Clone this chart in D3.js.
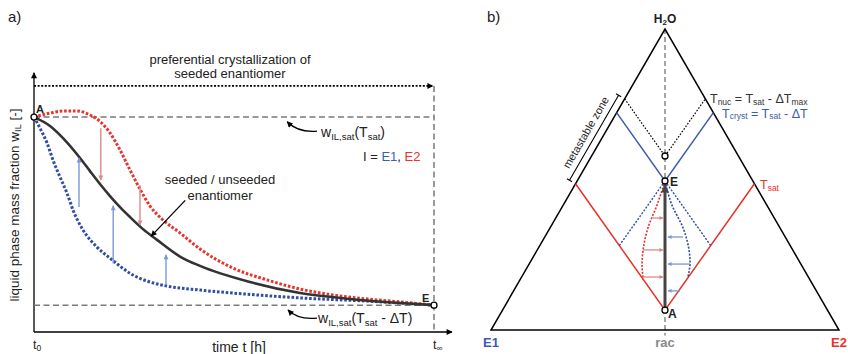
<!DOCTYPE html>
<html><head><meta charset="utf-8">
<script src="https://cdn.jsdelivr.net/npm/d3@7"></script>
<style>body{margin:0;background:#fff} svg{font-family:"Liberation Sans",Arial,sans-serif}</style>
</head><body><svg id="c" width="848" height="354"></svg>
<script>
// ---------- Panel a data (time t 0..10 = t0..t∞, w = liquid phase mass fraction) ----------
const timeTicks = [0, 10];
const timeTickLabels = [["t", "0"], ["t", "∞"]];
const wSat = 0.80;       // w_IL,sat(T_sat)
const wSatLow = 0.10;    // w_IL,sat(T_sat - ΔT)
const blackCurve = [[0,0.800],[0.40,0.767],[0.725,0.722],[1.15,0.648],[1.40,0.599],[1.65,0.551],[1.90,0.506],[2.15,0.465],[2.40,0.428],[2.725,0.383],[3.075,0.343],[3.65,0.281],[4.15,0.246],[5.40,0.186],[6.65,0.145],[7.90,0.123],[9.15,0.108],[10,0.100]];
const redCurve = [[0,0.800],[0.40,0.815],[0.725,0.823],[1.075,0.823],[1.40,0.808],[1.65,0.784],[1.90,0.741],[2.15,0.678],[2.40,0.603],[2.65,0.532],[2.90,0.469],[3.225,0.417],[3.65,0.369],[4.15,0.309],[4.975,0.238],[5.825,0.194],[6.65,0.160],[7.475,0.138],[8.325,0.123],[9.15,0.112],[10,0.100]];
const blueCurve = [[0,0.800],[0.15,0.759],[0.325,0.704],[0.475,0.640],[0.65,0.577],[0.825,0.517],[0.975,0.454],[1.225,0.380],[1.575,0.316],[1.90,0.275],[2.475,0.212],[2.90,0.186],[3.325,0.171],[4.15,0.156],[4.975,0.145],[6.65,0.127],[8.325,0.115],[10,0.100]];
const redArrowsA = [[1.67,0.759,0.566],[2.65,0.547,0.398]];
const blueArrowsA = [[1.125,0.465,0.648],[1.98,0.255,0.470],[3.3,0.175,0.288]];

// ---------- Panel b data (ternary: x = E1→E2 position, h = H2O height) ----------
const triangle = [[0,0],[1,0],[0.5,1]];
const pointA = [0.5, 0.066], pointE = [0.5, 0.495], pointNuc = [0.5, 0.578];
const tSatLine = [[0.243,0.486],[0.5,0.066],[0.757,0.486]];
const tCrystLine = [[0.361,0.722],[0.5,0.495],[0.639,0.722]];
const tNucLine = [[0.384,0.768],[0.5,0.578],[0.616,0.768]];
const crystBelow = [[[0.5,0.495],[0.369,0.281]], [[0.5,0.495],[0.631,0.281]]];
const redPathB = [[0.5,0.495],[0.477,0.415],[0.451,0.339],[0.437,0.266],[0.434,0.216],[0.438,0.166]];
const bluePathB = [[0.5,0.495],[0.520,0.415],[0.552,0.339],[0.569,0.266],[0.572,0.226],[0.566,0.176]];
const redArrowsB = [[0.372,0.4655,0.4943],[0.266,0.4368,0.4943],[0.176,0.4368,0.4943]];
const blueArrowsB = [[0.309,0.5517,0.5086],[0.219,0.5718,0.5086],[0.130,0.5431,0.5086]];
const metaZone = [[0.384,0.768],[0.243,0.486]];

const C = {red:"#e8322b", blue:"#2f4ea0", blueL:"#3d5cae", lred:"#d98a8c", lblue:"#7b98d8", gray:"#7a7a7a", dark:"#333"};

const svg = d3.select("#c");
const defs = svg.append("defs");
function marker(id, color, w, h) {
  defs.append("marker").attr("id", id).attr("viewBox","0 0 10 10").attr("refX",9).attr("refY",5)
    .attr("markerWidth",w).attr("markerHeight",h).attr("markerUnits","userSpaceOnUse").attr("orient","auto")
    .append("path").attr("d","M0,0L10,5L0,10z").attr("fill",color);
}
marker("mAx","#000",8,6); marker("mBlk","#000",7,6); marker("mR",C.lred,7,5); marker("mB",C.lblue,7,5);
marker("mRs",C.lred,5,4); marker("mBs",C.lblue,5,4);
marker("mThick","#444",13,8);

function rich(g, x, y, parts, o) {
  const t = g.append("text").attr("x",x).attr("y",y).attr("font-size",o.size).attr("fill",o.fill||"#222")
    .attr("text-anchor",o.anchor||"start").attr("font-weight",o.weight||"normal");
  let shifted = 0; const s = o.shift == null ? 0.18 : o.shift;
  parts.forEach(p => {
    const ts = t.append("tspan").text(p[0]);
    if (p[1] === "sub") { ts.attr("font-size", o.size*0.68).attr("dy", (o.size*s) - shifted); shifted = o.size*s; }
    else { ts.attr("dy", -shifted); shifted = 0; }
  });
  return t;
}

// ================= Panel a =================
const ga = svg.append("g");
const x = d3.scaleLinear().domain([0,10]).range([34,434]);
const y = d3.scaleLinear().domain([0,1]).range([332,63.4]);

ga.append("text").attr("x",8).attr("y",22).attr("font-size",15).attr("fill","#222").text("a)");

// axes
ga.append("line").attr("x1",x(0)).attr("x2",x(0)).attr("y1",y(0)).attr("y2",y(0.965)).attr("stroke","#000").attr("stroke-width",1.3).attr("marker-end","url(#mAx)");
ga.append("line").attr("x1",x(0)).attr("x2",x(10.45)).attr("y1",y(0)).attr("y2",y(0)).attr("stroke","#000").attr("stroke-width",1.3).attr("marker-end","url(#mAx)");
const xAxis = ga.append("g").attr("transform",`translate(0,${y(0)})`)
  .call(d3.axisBottom(x).tickValues(timeTicks).tickSize(0).tickPadding(0).tickFormat(()=>""));
xAxis.select(".domain").remove();
xAxis.selectAll(".tick text").each(function(d,i){
  const t = d3.select(this).attr("font-size",12.5).attr("fill","#222").attr("font-family","Liberation Sans, Arial, sans-serif")
    .attr("text-anchor","start").attr("x",-1.5).attr("y",17).attr("dy",null);
  t.append("tspan").text(timeTickLabels[i][0]);
  t.append("tspan").text(timeTickLabels[i][1]).attr("font-size",8.5).attr("dy",1.5);
});

// reference lines
ga.append("line").attr("x1",x(0)).attr("x2",x(10)).attr("y1",y(wSat)).attr("y2",y(wSat)).attr("stroke",C.gray).attr("stroke-width",1.5).attr("stroke-dasharray","6,3.5");
ga.append("line").attr("x1",x(0)).attr("x2",x(10)).attr("y1",y(wSatLow)).attr("y2",y(wSatLow)).attr("stroke",C.gray).attr("stroke-width",1.5).attr("stroke-dasharray","6,3.5");
ga.append("line").attr("x1",x(10)).attr("x2",x(10)).attr("y1",y(0.916)).attr("y2",y(0)).attr("stroke",C.gray).attr("stroke-width",1.5).attr("stroke-dasharray","6,3.5");
ga.append("line").attr("x1",x(0)).attr("x2",x(9.97)).attr("y1",y(0.916)).attr("y2",y(0.916)).attr("stroke","#000").attr("stroke-width",1.8).attr("stroke-dasharray","2,1.6").attr("marker-end","url(#mBlk)");

// curves
const la = d3.line().x(d=>x(d[0])).y(d=>y(d[1])).curve(d3.curveMonotoneX);
ga.append("path").attr("d",la(blueCurve)).attr("fill","none").attr("stroke",C.blue).attr("stroke-width",3).attr("stroke-dasharray","2.6,1.8");
ga.append("path").attr("d",la(redCurve)).attr("fill","none").attr("stroke",C.red).attr("stroke-width",3).attr("stroke-dasharray","2.6,1.8");
ga.append("path").attr("d",la(blackCurve)).attr("fill","none").attr("stroke","#333").attr("stroke-width",2.6);

// vertical arrows
ga.selectAll(".ra").data(redArrowsA).join("line").attr("x1",d=>x(d[0])).attr("x2",d=>x(d[0])).attr("y1",d=>y(d[1])).attr("y2",d=>y(d[2]))
  .attr("stroke",C.lred).attr("stroke-width",1.4).attr("marker-end","url(#mR)");
ga.selectAll(".ba").data(blueArrowsA).join("line").attr("x1",d=>x(d[0])).attr("x2",d=>x(d[0])).attr("y1",d=>y(d[1])).attr("y2",d=>y(d[2]))
  .attr("stroke",C.lblue).attr("stroke-width",1.4).attr("marker-end","url(#mB)");

// end points
ga.selectAll(".pt").data([[0,wSat],[10,wSatLow]]).join("circle").attr("cx",d=>x(d[0])).attr("cy",d=>y(d[1])).attr("r",3)
  .attr("fill","#fff").attr("stroke","#000").attr("stroke-width",1.3);
ga.append("text").attr("x",36).attr("y",113).attr("font-size",11).attr("font-weight","bold").attr("fill","#222").text("A");
ga.append("text").attr("x",422).attr("y",302).attr("font-size",11).attr("font-weight","bold").attr("fill","#222").text("E");

// texts
ga.append("text").attr("x",230).attr("y",64).attr("text-anchor","middle").attr("font-size",13).attr("fill","#222").text("preferential crystallization of");
ga.append("text").attr("x",230).attr("y",78).attr("text-anchor","middle").attr("font-size",13).attr("fill","#222").text("seeded enantiomer");
rich(ga, 321, 137, [["w"],["IL,sat","sub"],["(T"],["sat","sub"],[")"]], {size:14});
rich(ga, 318, 323, [["w"],["IL,sat","sub"],["(T"],["sat","sub"],[" - ΔT)"]], {size:14});
const it = ga.append("text").attr("x",363).attr("y",161).attr("font-size",13).attr("fill","#222");
it.append("tspan").text("I = "); it.append("tspan").attr("fill",C.blueL).text("E1"); it.append("tspan").text(", "); it.append("tspan").attr("fill",C.red).text("E2");
ga.append("text").attr("x",220).attr("y",184).attr("text-anchor","middle").attr("font-size",13).attr("fill","#222").text("seeded / unseeded");
ga.append("text").attr("x",220).attr("y",200).attr("text-anchor","middle").attr("font-size",13).attr("fill","#222").text("enantiomer");
ga.append("text").attr("x",239).attr("y",352).attr("text-anchor","middle").attr("font-size",14).attr("fill","#222").text("time t [h]");
rich(ga, 0, 0, [["liquid phase mass fraction w"],["IL","sub"],[" [-]"]], {size:13.5, anchor:"middle"}).attr("transform","translate(19,205) rotate(-90)");

// annotation arrows
ga.append("path").attr("d",`M${x(7.075)},${y(0.748)} Q${x(6.6)},${y(0.742)} ${x(6.33)},${y(0.783)}`).attr("fill","none").attr("stroke","#000").attr("stroke-width",1.3).attr("marker-end","url(#mBlk)");
ga.append("path").attr("d",`M${x(7.075)},${y(0.052)} Q${x(6.6)},${y(0.045)} ${x(6.35)},${y(0.082)}`).attr("fill","none").attr("stroke","#000").attr("stroke-width",1.3).attr("marker-end","url(#mBlk)");
ga.append("line").attr("x1",x(3.78)).attr("y1",y(0.49)).attr("x2",x(2.93)).attr("y2",y(0.357)).attr("stroke","#000").attr("stroke-width",1.3).attr("marker-end","url(#mBlk)");

// ================= Panel b =================
const gb = svg.append("g");
const bx = d3.scaleLinear().domain([0,1]).range([491,839]);
const by = d3.scaleLinear().domain([0,1]).range([330,29]);
const lb = d3.line().x(d=>bx(d[0])).y(d=>by(d[1]));

gb.append("text").attr("x",487).attr("y",22).attr("font-size",15).attr("fill","#222").text("b)");

gb.append("line").attr("x1",bx(0.5)).attr("x2",bx(0.5)).attr("y1",by(1)).attr("y2",by(-0.018)).attr("stroke","#888").attr("stroke-width",1.5).attr("stroke-dasharray","5,3");
gb.append("path").attr("d",lb(triangle)+"Z").attr("fill","none").attr("stroke","#000").attr("stroke-width",1.5).attr("stroke-linejoin","miter");

gb.append("path").attr("d",lb(tSatLine)).attr("fill","none").attr("stroke",C.red).attr("stroke-width",1.5);
gb.append("path").attr("d",lb(tCrystLine)).attr("fill","none").attr("stroke",C.blueL).attr("stroke-width",1.5);
gb.append("path").attr("d",lb(tNucLine)).attr("fill","none").attr("stroke","#000").attr("stroke-width",1.2).attr("stroke-dasharray","1.6,1.6");
crystBelow.forEach(s => gb.append("path").attr("d",lb(s)).attr("fill","none").attr("stroke",C.blue).attr("stroke-width",1.4).attr("stroke-dasharray","2,1.5"));

const lc = d3.line().x(d=>bx(d[0])).y(d=>by(d[1])).curve(d3.curveMonotoneY);
gb.append("path").attr("d",lc(redPathB)).attr("fill","none").attr("stroke",C.red).attr("stroke-width",1.6).attr("stroke-dasharray","2,1.5");
gb.append("path").attr("d",lc(bluePathB)).attr("fill","none").attr("stroke",C.blue).attr("stroke-width",1.6).attr("stroke-dasharray","2,1.5");

gb.selectAll(".rb").data(redArrowsB).join("line").attr("x1",d=>bx(d[1])).attr("x2",d=>bx(d[2])).attr("y1",d=>by(d[0])).attr("y2",d=>by(d[0]))
  .attr("stroke",C.lred).attr("stroke-width",1.3).attr("marker-end","url(#mRs)");
gb.selectAll(".bb").data(blueArrowsB).join("line").attr("x1",d=>bx(d[1])).attr("x2",d=>bx(d[2])).attr("y1",d=>by(d[0])).attr("y2",d=>by(d[0]))
  .attr("stroke",C.lblue).attr("stroke-width",1.3).attr("marker-end","url(#mBs)");

// thick arrow A -> E
gb.append("line").attr("x1",bx(pointA[0])).attr("y1",by(pointA[1])).attr("x2",bx(pointE[0])).attr("y2",by(pointE[1]-0.014))
  .attr("stroke","#444").attr("stroke-width",3).attr("marker-end","url(#mThick)");

gb.selectAll(".pb").data([pointA,pointE,pointNuc]).join("circle").attr("cx",d=>bx(d[0])).attr("cy",d=>by(d[1])).attr("r",3)
  .attr("fill","#fff").attr("stroke","#000").attr("stroke-width",1.3);

// metastable bracket (offset outward from the left edge)
const p1 = [bx(metaZone[0][0]), by(metaZone[0][1])], p2 = [bx(metaZone[1][0]), by(metaZone[1][1])];
const nrm = [-0.866,-0.5], off = 7, tk = 3;
const q1 = [p1[0]+nrm[0]*off, p1[1]+nrm[1]*off], q2 = [p2[0]+nrm[0]*off, p2[1]+nrm[1]*off];
gb.append("path").attr("d",`M${q1[0]},${q1[1]}L${q2[0]},${q2[1]}M${q1[0]-nrm[0]*tk},${q1[1]-nrm[1]*tk}L${q1[0]+nrm[0]*tk},${q1[1]+nrm[1]*tk}M${q2[0]-nrm[0]*tk},${q2[1]-nrm[1]*tk}L${q2[0]+nrm[0]*tk},${q2[1]+nrm[1]*tk}`)
  .attr("fill","none").attr("stroke","#000").attr("stroke-width",1.1);
const mid = [(q1[0]+q2[0])/2 + nrm[0]*5 + 0.5*(-1), (q1[1]+q2[1])/2 + nrm[1]*5 - 0.866*1];
gb.append("text").attr("transform",`translate(${mid[0]},${mid[1]}) rotate(-60)`).attr("text-anchor","middle").attr("font-size",11).attr("fill","#222").text("metastable zone");

// labels
gb.append("text").attr("x",bx(0.5)).attr("y",23).attr("text-anchor","middle").attr("font-size",12).attr("font-weight","bold").attr("fill","#222")
  .call(t=>{t.append("tspan").text("H"); t.append("tspan").text("2").attr("font-size",8).attr("dy",2); t.append("tspan").text("O").attr("dy",-2);});
gb.append("text").attr("x",483).attr("y",347).attr("font-size",13).attr("font-weight","bold").attr("fill",C.blueL).text("E1");
gb.append("text").attr("x",bx(0.5)).attr("y",347).attr("text-anchor","middle").attr("font-size",13).attr("font-weight","bold").attr("fill","#888").text("rac");
gb.append("text").attr("x",847).attr("y",347).attr("text-anchor","end").attr("font-size",13).attr("font-weight","bold").attr("fill",C.red).text("E2");
gb.append("text").attr("x",670).attr("y",186).attr("font-size",12).attr("font-weight","bold").attr("fill","#222").text("E");
gb.append("text").attr("x",668).attr("y",318).attr("font-size",12).attr("font-weight","bold").attr("fill","#222").text("A");
rich(gb, 710, 103, [["T"],["nuc","sub"],[" = T"],["sat","sub"],[" - ΔT"],["max","sub"]], {size:12.5, fill:"#333", shift:0.12});
rich(gb, 722, 117.5, [["T"],["cryst","sub"],[" = T"],["sat","sub"],[" - ΔT"]], {size:12.5, fill:C.blueL, shift:0.12});
rich(gb, 760, 189, [["T"],["sat","sub"]], {size:12.5, fill:C.red, shift:0.12});
</script></body></html>
